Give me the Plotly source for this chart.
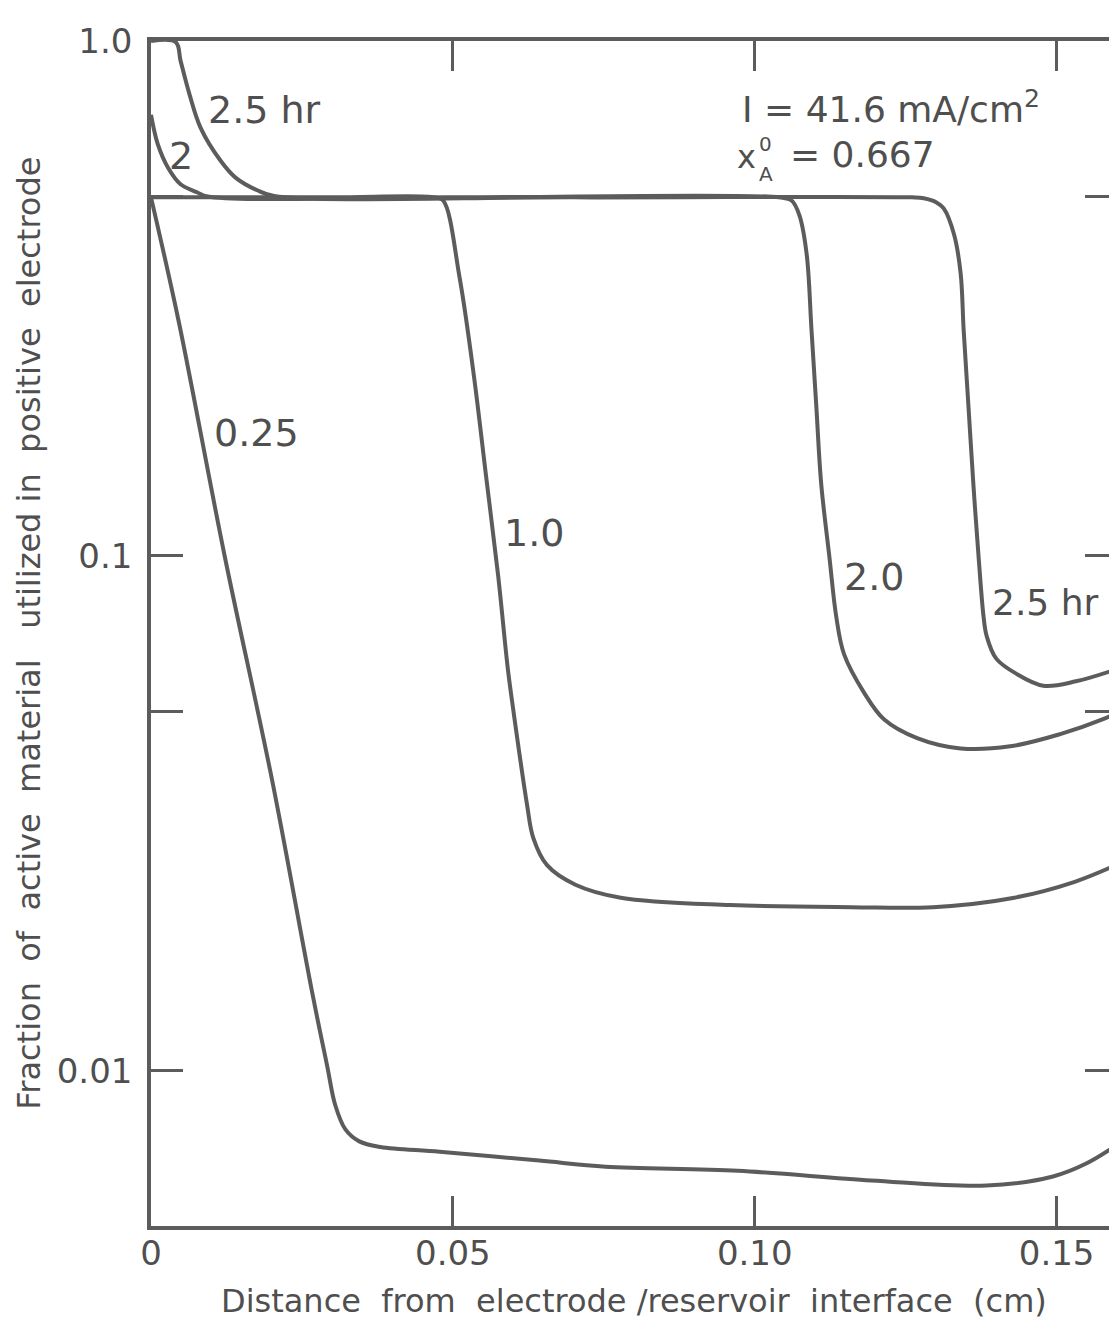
import plotly.graph_objects as go

# ---- data ----
# 0.25 hr
x_025 = [0.0, 0.0046, 0.0122, 0.0200, 0.0268, 0.0292, 0.0305,
         0.0322, 0.0345, 0.0380, 0.0478, 0.0643, 0.0753, 0.0972, 0.1193, 0.1384, 0.1494, 0.1549, 0.1598]
y_025 = [0.497, 0.285, 0.1000, 0.0370, 0.0140, 0.0102, 0.00860,
         0.00770, 0.00730, 0.00712, 0.00697, 0.00670, 0.00652, 0.00640, 0.00613, 0.00599, 0.00624, 0.00661, 0.00716]

# 1.0 hr
x_10 = [0.0, 0.030, 0.0470, 0.0484, 0.0511, 0.0535, 0.0555, 0.0575, 0.0591, 0.0599, 0.0623,
        0.0633, 0.0656, 0.0703, 0.0778, 0.0959, 0.1160, 0.1295, 0.1430, 0.1530, 0.1598]
y_10 = [0.497, 0.497, 0.497, 0.490, 0.348, 0.2229, 0.1428, 0.0915, 0.0604, 0.0513, 0.0328,
        0.0284, 0.0251, 0.0230, 0.0217, 0.0210, 0.0208, 0.0208, 0.0217, 0.0233, 0.0251]

# 2.0 hr
x_20 = [0.0, 0.00115, 0.0028, 0.0049, 0.0077, 0.0094, 0.050, 0.1040, 0.1061, 0.1074, 0.1086,
        0.1094, 0.1102, 0.1110, 0.1124, 0.1135, 0.1148, 0.1181, 0.1214, 0.1269, 0.1341,
        0.1423, 0.1506, 0.1577, 0.1598]
y_20 = [0.719, 0.629, 0.568, 0.527, 0.508, 0.499, 0.497, 0.497, 0.490, 0.4586, 0.3855,
        0.2748, 0.1951, 0.1384, 0.0987, 0.0762, 0.0644, 0.0543, 0.0482, 0.0443, 0.0423,
        0.0427, 0.0451, 0.0482, 0.0495]

# 2.5 hr
x_25 = [0.0, 0.0041, 0.0049, 0.0064, 0.0082, 0.0115, 0.0140, 0.0176, 0.0204, 0.070, 0.1260,
        0.1280, 0.1301, 0.1313, 0.1330, 0.1341, 0.1346, 0.1354, 0.1362, 0.1371, 0.1379,
        0.1384, 0.1400, 0.1433, 0.1478, 0.1532, 0.1598]
y_25 = [1.0, 0.995, 0.915, 0.786, 0.679, 0.586, 0.543, 0.513, 0.500, 0.497, 0.497,
        0.495, 0.486, 0.473, 0.4214, 0.354, 0.2748, 0.1951, 0.1384, 0.0987, 0.0762,
        0.0700, 0.0632, 0.0591, 0.0560, 0.0571, 0.0602]

x_tickvals = [0, 0.05, 0.10, 0.15]
x_ticktext = ["0", "0.05", "0.10", "0.15"]
y_tickvals = [0.01, 0.1, 1.0]
y_ticktext = ["0.01", "0.1", "1.0"]
y_minor_tickvals = [0.05, 0.5]

series = [(x_025, y_025), (x_10, y_10), (x_20, y_20), (x_25, y_25)]

INK = "#5c5c5c"
TXT = "#4f4f4f"
FONT = "DejaVu Sans"

fig = go.Figure()
for xs, ys in series:
    fig.add_trace(go.Scatter(x=xs, y=ys, mode="lines",
                             line=dict(color=INK, width=4, shape="spline", smoothing=1.0),
                             showlegend=False, hoverinfo="skip"))

labels = [
    ("2.5 hr", 0.01878, -0.1335, 38),
    ("2", 0.00494, -0.2224, 38),
    ("0.25", 0.01746, -0.7602, 38),
    ("1.0", 0.0634, -0.9555, 38),
    ("2.0", 0.1198, -1.0406, 38),
    ("2.5 hr", 0.1481, -1.0909, 36),
]
ann = []
for t, x, ly, s in labels:
    ann.append(dict(text=t, x=x, y=ly, xref="x", yref="y", showarrow=False,
                    font=dict(family=FONT, size=s, color=TXT),
                    xanchor="center", yanchor="middle"))

# conditions text
ann.append(dict(text="I = 41.6 mA/cm<sup>2</sup>", x=0.0975, y=-0.128, xref="x", yref="y",
                showarrow=False, xanchor="left", yanchor="middle",
                font=dict(family=FONT, size=36, color=TXT)))
ann.append(dict(text="x", x=0.0968, y=-0.226, xref="x", yref="y", showarrow=False,
                xanchor="left", yanchor="middle", font=dict(family=FONT, size=32, color=TXT)))
ann.append(dict(text="0", x=0.1004, y=-0.200, xref="x", yref="y", showarrow=False,
                xanchor="left", yanchor="middle", font=dict(family=FONT, size=20, color=TXT)))
ann.append(dict(text="A", x=0.1003, y=-0.258, xref="x", yref="y", showarrow=False,
                xanchor="left", yanchor="middle", font=dict(family=FONT, size=20, color=TXT)))
ann.append(dict(text="= 0.667", x=0.1055, y=-0.221, xref="x", yref="y", showarrow=False,
                xanchor="left", yanchor="middle", font=dict(family=FONT, size=36, color=TXT)))

# y-axis title
ann.append(dict(text="Fraction  of  active  material   utilized in  positive  electrode",
                x=-0.127, y=0.50, xref="paper", yref="paper", showarrow=False,
                textangle=-90, xanchor="center", yanchor="middle",
                font=dict(family=FONT, size=32, color=TXT)))
# x-axis title
ann.append(dict(text="Distance  from  electrode /reservoir  interface  (cm)",
                x=0.50, y=-0.063, xref="paper", yref="paper", showarrow=False,
                xanchor="center", yanchor="middle",
                font=dict(family=FONT, size=32, color=TXT)))

fig.update_layout(
    width=1117, height=1323,
    margin=dict(l=143, r=4, t=33, b=105),
    paper_bgcolor="white", plot_bgcolor="white",
    annotations=ann,
    showlegend=False,
)
fig.update_xaxes(range=[0, 0.16], showgrid=False, zeroline=False,
                 showline=True, linecolor=INK, linewidth=3.5, mirror="ticks",
                 ticks="inside", ticklen=30, tickwidth=3, tickcolor=INK,
                 tickvals=x_tickvals, ticktext=x_ticktext, ticklabelstandoff=-6,
                 tickfont=dict(family=FONT, size=34, color=TXT))
fig.update_yaxes(type="log", range=[-2.301, 0], showgrid=False, zeroline=False,
                 showline=True, linecolor=INK, linewidth=3.5, mirror="ticks",
                 ticks="inside", ticklen=32, tickwidth=3, tickcolor=INK,
                 tickvals=y_tickvals, ticktext=y_ticktext, ticklabelstandoff=8,
                 minor=dict(tickvals=y_minor_tickvals, ticks="inside", ticklen=32,
                            tickwidth=3, tickcolor=INK, showgrid=False),
                 tickfont=dict(family=FONT, size=34, color=TXT))

fig.write_html("out.html")
